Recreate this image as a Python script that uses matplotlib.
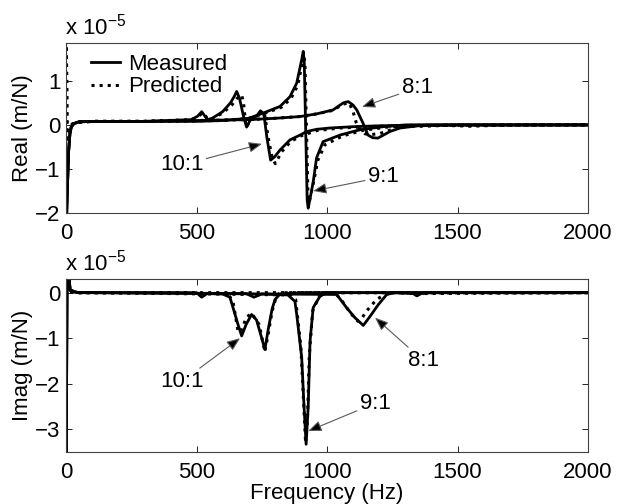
import matplotlib
matplotlib.use("Agg")
import matplotlib.pyplot as plt

plt.rcParams['font.family'] = ['Liberation Sans', 'DejaVu Sans']
plt.rcParams['mathtext.fontset'] = 'custom'
plt.rcParams['mathtext.rm'] = 'Liberation Sans'
plt.rcParams['mathtext.it'] = 'Liberation Sans'

# ---------------- data (units of 1e-5 m/N) ----------------
xticks = [0, 500, 1000, 1500, 2000]
real_yticks = [-2, -1, 0, 1]
imag_yticks = [-3, -2, -1, 0]

# Real part, measured
re_m10_f = [0, 3, 6, 10, 15, 20, 30, 50, 100, 300, 480, 505, 520, 532, 542, 560, 600, 630, 645, 654, 665, 680, 692,
            705, 730, 745, 758, 770, 784, 800, 820, 858, 897, 922, 960, 1011, 1100, 1200, 1400, 2000]
re_m10_v = [-3, -1.9, -1.3, -0.6, -0.2, -0.05, 0.03, 0.07, 0.08, 0.08, 0.12, 0.2, 0.3, 0.2, 0.12, 0.15, 0.3, 0.5, 0.65,
            0.76, 0.6, 0.2, -0.05, 0.1, 0.2, 0.32, 0.25, -0.3, -0.8, -0.72, -0.57, -0.34, -0.23, -0.15, -0.1, -0.07,
            -0.04, -0.02, 0, 0]
re_m9_f = [0, 3, 6, 10, 15, 20, 30, 50, 100, 300, 500, 600, 700, 756, 820, 858, 884, 903, 909, 913, 918, 924, 928,
           947, 960, 985, 1050, 1126, 1215, 1300, 2000]
re_m9_v = [-3, -1.9, -1.3, -0.6, -0.2, -0.05, 0.03, 0.07, 0.08, 0.08, 0.08, 0.1, 0.15, 0.27, 0.42, 0.64, 0.95, 1.48,
           1.67, 1.4, 0.0, -1.7, -1.89, -1.3, -0.75, -0.38, -0.23, -0.11, -0.04, 0, 0]
re_m8_f = [0, 3, 6, 10, 15, 20, 30, 50, 100, 300, 500, 700, 800, 897, 960, 1023, 1062, 1081, 1100, 1114, 1138, 1157,
           1175, 1195, 1241, 1280, 1350, 1500, 2000]
re_m8_v = [-3, -1.9, -1.3, -0.6, -0.2, -0.05, 0.03, 0.07, 0.08, 0.08, 0.1, 0.12, 0.15, 0.19, 0.25, 0.34, 0.5, 0.53,
           0.45, 0.34, 0.04, -0.23, -0.29, -0.3, -0.15, -0.07, -0.02, 0, 0]

# Real part, predicted
re_p10_f = [0, 4, 8, 15, 25, 40, 100, 300, 480, 505, 522, 535, 545, 560, 600, 635, 655, 673, 680, 690, 705, 730, 748,
            762, 775, 790, 802, 825, 860, 900, 960, 1050, 1200, 1400, 2000]
re_p10_v = [3, -0.4, -0.2, -0.05, 0.02, 0.06, 0.08, 0.08, 0.12, 0.18, 0.27, 0.2, 0.12, 0.14, 0.27, 0.45, 0.6, 0.68,
            0.5, -0.05, 0.08, 0.18, 0.3, 0.2, -0.3, -0.75, -0.88, -0.62, -0.38, -0.25, -0.13, -0.07, -0.03, -0.01, 0]
re_p9_f = [0, 4, 8, 15, 25, 40, 100, 300, 600, 700, 760, 825, 862, 888, 905, 912, 916, 921, 927, 932, 950, 965, 992,
           1060, 1140, 1230, 1320, 2000]
re_p9_v = [3, -0.4, -0.2, -0.05, 0.02, 0.06, 0.08, 0.08, 0.1, 0.15, 0.26, 0.4, 0.6, 0.9, 1.4, 1.6, 1.3, 0.0, -1.6,
           -1.75, -1.25, -0.8, -0.45, -0.25, -0.12, -0.05, -0.01, 0]
re_p8_f = [0, 4, 8, 15, 25, 40, 100, 300, 500, 700, 800, 897, 960, 1023, 1060, 1085, 1100, 1112, 1126, 1145, 1165,
           1200, 1250, 1300, 1380, 1450, 1550, 1650, 1750, 2000]
re_p8_v = [3, -0.4, -0.2, -0.05, 0.02, 0.06, 0.08, 0.08, 0.1, 0.12, 0.15, 0.19, 0.25, 0.33, 0.47, 0.5, 0.3, 0.05,
           -0.11, -0.2, -0.22, -0.2, -0.1, -0.03, -0.03, -0.01, -0.03, -0.01, 0, 0]

# Imag part, measured
im_m10_f = [0, 4, 8, 12, 16, 22, 30, 50, 100, 500, 520, 540, 600, 628, 640, 659, 673, 690, 711, 730, 750, 762, 775,
            790, 801, 820, 900, 2000]
im_m10_v = [-5, 0.35, 0.1, 0.3, 0.05, 0.05, 0.02, 0, 0, 0, -0.1, -0.02, -0.03, -0.1, -0.33, -0.7, -0.95, -0.7, -0.48,
            -0.6, -1.0, -1.25, -0.8, -0.35, -0.15, -0.03, 0, 0]
im_m9_f = [0, 4, 8, 12, 16, 22, 30, 50, 100, 690, 720, 750, 850, 877, 884, 903, 912, 920, 928, 935, 947, 973, 999,
           2000]
im_m9_v = [-5, 0.35, 0.1, 0.3, 0.05, 0.05, 0.02, 0, 0, -0.02, -0.1, -0.03, -0.05, -0.19, -0.48, -1.42, -2.5, -3.33,
           -2.5, -1.07, -0.33, -0.08, 0, 0]
im_m8_f = [0, 4, 8, 12, 16, 22, 30, 50, 100, 1037, 1075, 1107, 1139, 1165, 1197, 1229, 1260, 1330, 1344, 1360, 1400,
           2000]
im_m8_v = [-5, 0.35, 0.1, 0.3, 0.05, 0.05, 0.02, 0, 0, -0.04, -0.33, -0.55, -0.72, -0.52, -0.26, -0.04, 0, -0.02,
           -0.07, -0.02, 0, 0]

# Imag part, predicted
im_p10_f = [0, 5, 10, 20, 40, 100, 500, 520, 540, 620, 640, 660, 675, 690, 711, 740, 762, 775, 790, 805, 820, 2000]
im_p10_v = [0.35, 0.2, 0.05, 0.02, 0, 0, 0, -0.08, -0.02, -0.02, -0.2, -0.87, -0.8, -0.55, -0.45, -0.7, -1.3, -0.9,
            -0.4, -0.1, 0, 0]
im_p9_f = [0, 5, 10, 20, 40, 100, 860, 880, 900, 912, 918, 925, 932, 945, 970, 995, 2000]
im_p9_v = [0.35, 0.2, 0.05, 0.02, 0, 0, -0.05, -0.15, -1.2, -2.6, -3.3, -2.8, -1.4, -0.4, -0.08, 0, 0]
im_p8_f = [0, 5, 10, 20, 40, 100, 1030, 1060, 1090, 1119, 1135, 1152, 1190, 1222, 1250, 1330, 1345, 1360, 2000]
im_p8_v = [0.35, 0.2, 0.05, 0.02, 0, 0, 0, -0.2, -0.45, -0.63, -0.55, -0.4, -0.15, -0.04, 0, -0.02, -0.06, -0.02, 0]

# ---------------- figure ----------------
W, H = 629, 504
fig = plt.figure(figsize=(W / 100, H / 100), dpi=100)

def fx(px):
    return px / W

def fy(py):
    return 1 - py / H

ax1 = fig.add_axes([fx(66), fy(213), fx(588) - fx(66), fy(43) - fy(213)])
ax2 = fig.add_axes([fx(66), fy(452), fx(588) - fx(66), fy(279) - fy(452)])

FS = 16
mlw = 2.0
plw = 2.2

for ax in (ax1, ax2):
    ax.set_xlim(0, 2000)
    ax.set_xticks(xticks)
    ax.tick_params(direction='in', top=True, right=True, length=4, width=0.6,
                   labelsize=FS, colors='black')
    ax.tick_params(axis='x', pad=7)
    ax.tick_params(axis='y', pad=4)
    for s in ax.spines.values():
        s.set_linewidth(0.8)
        s.set_color('0.25')

# Real
ax1.plot(re_m10_f, re_m10_v, 'k-', lw=mlw, label='Measured')
ax1.plot(re_m9_f, re_m9_v, 'k-', lw=mlw)
ax1.plot(re_m8_f, re_m8_v, 'k-', lw=mlw)
ax1.plot(re_p10_f, re_p10_v, 'k:', lw=plw, label='Predicted')
ax1.plot(re_p9_f, re_p9_v, 'k:', lw=plw)
ax1.plot(re_p8_f, re_p8_v, 'k:', lw=plw)
ax1.set_ylim(-2, 1.86)
ax1.set_yticks(real_yticks)
ax1.set_ylabel('Real (m/N)', fontsize=FS)
ax1.yaxis.set_label_coords(-0.064, 0.5)
leg = ax1.legend(loc='upper left', frameon=False, fontsize=FS, handlelength=1.3,
                 handletextpad=0.35, borderaxespad=0.0, labelspacing=0.05,
                 borderpad=0.2, bbox_to_anchor=(0.04, 0.96))

# Imag
ax2.plot(im_m10_f, im_m10_v, 'k-', lw=mlw)
ax2.plot(im_m9_f, im_m9_v, 'k-', lw=mlw)
ax2.plot(im_m8_f, im_m8_v, 'k-', lw=mlw)
ax2.plot(im_p10_f, im_p10_v, 'k:', lw=plw)
ax2.plot(im_p9_f, im_p9_v, 'k:', lw=plw)
ax2.plot(im_p8_f, im_p8_v, 'k:', lw=plw)
ax2.set_ylim(-3.5, 0.3)
ax2.set_yticks(imag_yticks)
ax2.set_ylabel('Imag (m/N)', fontsize=FS)
ax2.yaxis.set_label_coords(-0.064, 0.5)

# multiplier texts
fig.text(fx(65), fy(35), r'x 10$^{-5}$', fontsize=FS, va='baseline', ha='left')
fig.text(fx(65), fy(271), r'x 10$^{-5}$', fontsize=FS, va='baseline', ha='left')

fig.text(fx(327), fy(493), 'Frequency (Hz)', fontsize=FS, ha='center', va='center')

arrow_kw = dict(arrowstyle='-|>,head_length=0.5,head_width=0.2', color='0.35', lw=0.8,
                shrinkA=0, shrinkB=0)

def note(ax, text, xy, xytext):
    ax.annotate(text, xy=xy, xytext=xytext, fontsize=FS, ha='center', va='center',
                arrowprops=dict(arrow_kw, fc='black', ec='0.35'))

note(ax1, '10:1', (751, -0.43), (444, -0.91))
note(ax1, '9:1', (947, -1.5), (1215, -1.18))
note(ax1, '8:1', (1134, 0.41), (1345, 0.84))
note(ax2, '10:1', (667, -1.0), (444, -1.95))
note(ax2, '9:1', (928, -3.04), (1184, -2.43))
note(ax2, '8:1', (1184, -0.55), (1368, -1.49))

fig.savefig('out.png', dpi=100)
